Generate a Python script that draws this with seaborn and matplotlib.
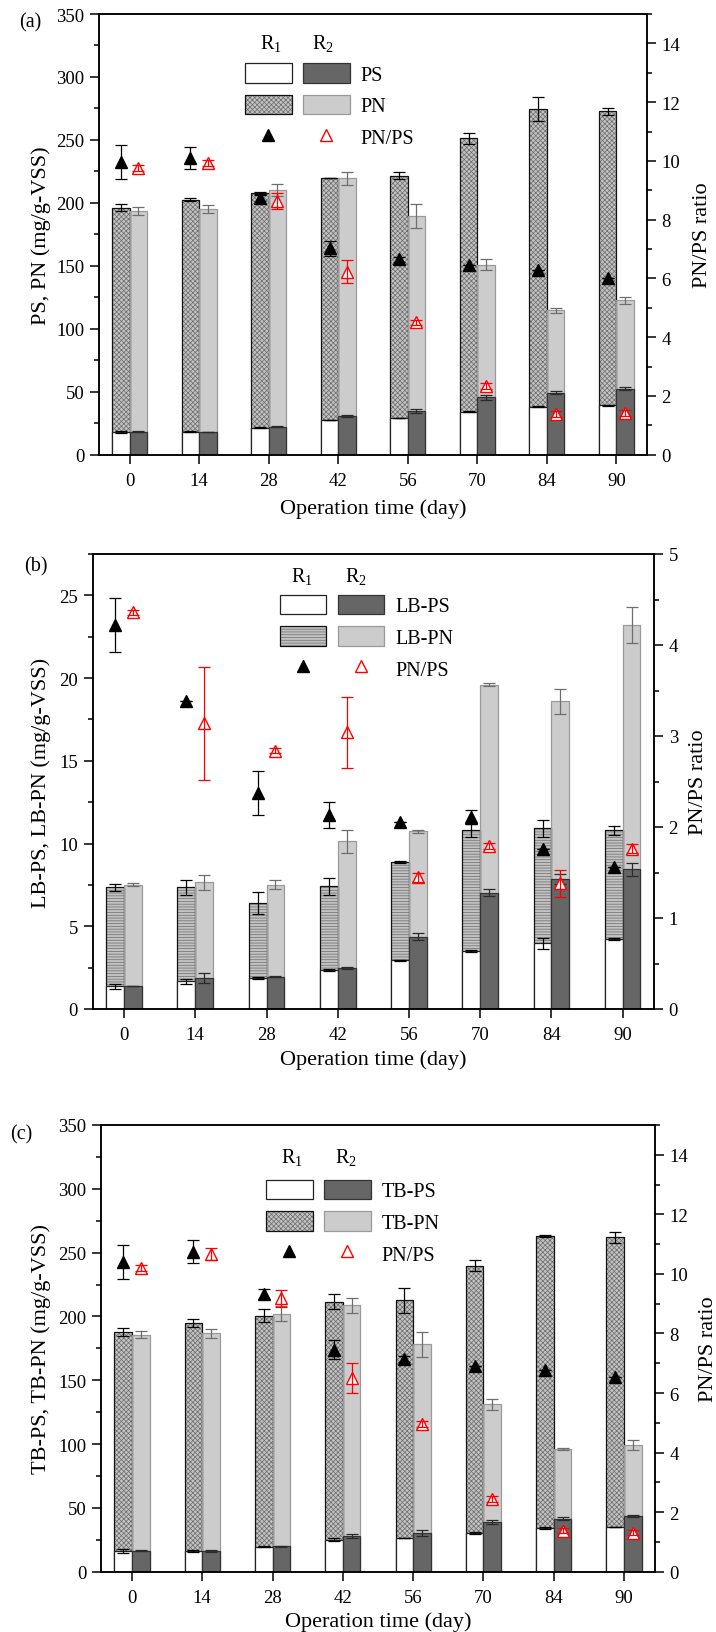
import matplotlib
matplotlib.use("Agg")
import numpy as np
import pandas as pd
import matplotlib.pyplot as plt
import seaborn as sns
from matplotlib.patches import Patch
from matplotlib.lines import Line2D
from matplotlib.legend_handler import HandlerTuple
from matplotlib.ticker import MultipleLocator

days = ["0", "14", "28", "42", "56", "70", "84", "90"]
reactors = ["R1", "R2"]

# ---------------- (a) total EPS ----------------
a_ps_r1 = [18.0, 18.3, 21.4, 27.5, 29.1, 34.1, 38.1, 39.2]
a_ps_r2 = [18.3, 18.0, 22.2, 31.0, 34.7, 45.8, 49.2, 52.4]
a_ps_r1_err = [0.5, 0.4, 0.3, 0.3, 0.3, 0.3, 0.3, 0.3]
a_ps_r2_err = [0.3, 0.3, 0.3, 0.8, 1.5, 2.0, 1.2, 1.0]
a_pn_r1 = [196.3, 202.6, 207.7, 219.6, 221.7, 251.3, 274.6, 272.7]
a_pn_r2 = [193.7, 195.0, 210.3, 219.6, 189.4, 151.0, 114.6, 122.8]
a_pn_r1_err = [2.6, 1.5, 1.0, 0.2, 2.5, 4.5, 9.3, 3.0]
a_pn_r2_err = [3.2, 3.3, 5.0, 5.3, 9.5, 4.2, 2.0, 2.8]
a_ratio_r1 = [9.95, 10.09, 8.74, 7.03, 6.65, 6.44, 6.27, 6.00]
a_ratio_r2 = [9.76, 9.93, 8.63, 6.23, 4.50, 2.35, 1.38, 1.41]
a_ratio_r1_err = [0.58, 0.37, 0.10, 0.26, 0.08, 0.0, 0.0, 0.0]
a_ratio_r2_err = [0.10, 0.10, 0.28, 0.40, 0.10, 0.10, 0.10, 0.10]

# ---------------- (b) LB-EPS ----------------
b_ps_r1 = [1.38, 1.67, 1.88, 2.35, 2.94, 3.48, 3.96, 4.23]
b_ps_r2 = [1.40, 1.85, 1.96, 2.50, 4.38, 7.04, 7.85, 8.44]
b_ps_r1_err = [0.15, 0.15, 0.06, 0.04, 0.02, 0.06, 0.32, 0.04]
b_ps_r2_err = [0.0, 0.30, 0.05, 0.06, 0.22, 0.23, 0.30, 0.38]
b_pn_r1 = [7.35, 7.35, 6.40, 7.42, 8.90, 10.79, 10.92, 10.79]
b_pn_r2 = [7.52, 7.65, 7.52, 10.13, 10.73, 19.60, 18.60, 23.20]
b_pn_r1_err = [0.20, 0.46, 0.65, 0.50, 0.05, 0.40, 0.50, 0.30]
b_pn_r2_err = [0.08, 0.44, 0.26, 0.70, 0.10, 0.10, 0.76, 1.07]
b_ratio_r1 = [4.22, 3.38, 2.37, 2.13, 2.05, 2.11, 1.76, 1.56]
b_ratio_r2 = [4.36, 3.14, 2.84, 3.04, 1.45, 1.79, 1.38, 1.76]
b_ratio_r1_err = [0.30, 0.0, 0.24, 0.14, 0.0, 0.08, 0.0, 0.0]
b_ratio_r2_err = [0.03, 0.62, 0.03, 0.39, 0.05, 0.03, 0.15, 0.05]

# ---------------- (c) TB-EPS ----------------
c_ps_r1 = [16.3, 16.5, 19.5, 25.2, 26.3, 30.6, 33.9, 35.0]
c_ps_r2 = [16.5, 16.3, 19.8, 27.9, 30.4, 39.0, 41.5, 43.4]
c_ps_r1_err = [1.5, 0.8, 0.5, 1.0, 0.0, 0.8, 0.8, 0.3]
c_ps_r2_err = [0.5, 0.5, 0.3, 1.5, 2.2, 1.8, 1.0, 0.8]
c_pn_r1 = [188.1, 194.6, 200.6, 211.7, 212.5, 239.9, 262.9, 261.9]
c_pn_r2 = [185.7, 186.8, 202.2, 208.7, 178.1, 131.2, 96.0, 99.2]
c_pn_r1_err = [3.1, 3.1, 5.3, 6.1, 9.8, 4.6, 0.8, 4.2]
c_pn_r2_err = [2.7, 3.5, 5.7, 6.1, 9.8, 4.2, 1.0, 3.9]
c_ratio_r1 = [10.40, 10.75, 9.32, 7.46, 7.15, 6.91, 6.77, 6.54]
c_ratio_r2 = [10.20, 10.67, 9.18, 6.50, 4.96, 2.44, 1.38, 1.31]
c_ratio_r1_err = [0.58, 0.38, 0.17, 0.31, 0.10, 0.0, 0.0, 0.0]
c_ratio_r2_err = [0.10, 0.19, 0.29, 0.50, 0.10, 0.10, 0.08, 0.08]

W, H = 716, 1633
sns.set_style("ticks", {"axes.edgecolor": "black", "xtick.color": "black",
                        "ytick.color": "black", "text.color": "black",
                        "axes.labelcolor": "black"})
plt.rcParams["font.family"] = ["Liberation Serif", "DejaVu Serif"]
plt.rcParams["mathtext.fontset"] = "custom"
plt.rcParams["mathtext.rm"] = "Liberation Serif"
plt.rcParams["mathtext.it"] = "Liberation Serif:italic"
plt.rcParams["hatch.linewidth"] = 0.5

fig = plt.figure(figsize=(W / 100, H / 100), dpi=100)


def fx(px):
    return px / W


def fy(py):
    return 1 - py / H


PS_R1, PS_R2 = "white", "#666666"
PN_R1, PN_R2 = "#c2c2c2", "#cccccc"
HATCH_C = "#6c6c6c"
TICK_FS = 13.5
LAB_FS = 16
LEG_FS = 14.5


def panel(box, letter, letter_xy, ps, ps_err, pn, pn_err, ratio, ratio_err,
          ylim, ymaj, ymin_, rlim, rmaj, rmin, ylabel, names, hatch,
          leg_xy, head_x, head_y, ylab_x, rlab_x, xlab_y):
    left, top, right, bottom = box
    ax = fig.add_axes([fx(left), fy(bottom), (right - left) / W, (bottom - top) / H])
    df = pd.DataFrame({"day": days * 2, "reactor": ["R1"] * 8 + ["R2"] * 8,
                       "PS": ps[0] + ps[1], "PN": pn[0] + pn[1]})
    common = dict(data=df, x="day", hue="reactor", order=days, hue_order=reactors,
                  width=0.5, saturation=1, errorbar=None, legend=False, ax=ax)
    # PN bars (filled)
    n0 = len(ax.containers)
    sns.barplot(y="PN", palette={"R1": PN_R1, "R2": PN_R2}, linewidth=0.5, **common)
    pn_bars = ax.containers[n0:n0 + 2]
    for p in pn_bars[0]:
        p.set_hatch(hatch)
        p.set_edgecolor(HATCH_C)
    for p in pn_bars[1]:
        p.set_edgecolor(PN_R2)
    # PN outlines
    sns.barplot(y="PN", palette={"R1": "#111111", "R2": "#9a9a9a"}, fill=False,
                linewidth=0.9, **common)
    # PS bars
    n1 = len(ax.containers)
    sns.barplot(y="PS", palette={"R1": PS_R1, "R2": PS_R2}, linewidth=0.9, **common)
    ps_bars = ax.containers[n1:n1 + 2]
    for p in ps_bars[0]:
        p.set_edgecolor("#222222")
    for p in ps_bars[1]:
        p.set_edgecolor("#333333")

    centers = [[p.get_x() + p.get_width() / 2 for p in c] for c in pn_bars]
    pn_ecol = ["black", "#6e6e6e"]
    ps_ecol = ["black", "#2a2a2a"]
    for i in range(2):
        ax.errorbar(centers[i], pn[i], yerr=pn_err[i], fmt="none", ecolor=pn_ecol[i],
                    elinewidth=0.9, capsize=4, capthick=0.9, zorder=3)
        ax.errorbar(centers[i], ps[i], yerr=ps_err[i], fmt="none", ecolor=ps_ecol[i],
                    elinewidth=0.9, capsize=4, capthick=0.9, zorder=3)

    ax.set_xlim(-0.44, 7.44)
    ax.set_ylim(*ylim)
    ax.yaxis.set_major_locator(MultipleLocator(ymaj))
    ax.yaxis.set_minor_locator(MultipleLocator(ymin_))
    ax.tick_params(axis="both", which="major", direction="out", length=6.5, width=1.1,
                   labelsize=TICK_FS, pad=4)
    ax.tick_params(axis="y", which="minor", direction="out", length=3.5, width=1.1)
    ax.tick_params(axis="x", which="major", pad=6)
    for s in ax.spines.values():
        s.set_linewidth(1.1)
        s.set_visible(True)

    ax2 = ax.twinx()
    ax2.plot(centers[0], ratio[0], ls="none", marker="^", color="black", ms=9, zorder=3)
    ax2.plot(centers[1], ratio[1], ls="none", marker="^", mfc="white", mec="red",
             mew=1.0, ms=9, zorder=3)
    ax2.errorbar(centers[0], ratio[0], yerr=ratio_err[0], fmt="none", ecolor="black",
                 elinewidth=0.9, capsize=4, capthick=0.9, zorder=4)
    ax2.errorbar(centers[1], ratio[1], yerr=ratio_err[1], fmt="none", ecolor="red",
                 elinewidth=0.9, capsize=4, capthick=0.9, zorder=4)
    ax2.set_ylim(*rlim)
    ax2.yaxis.set_major_locator(MultipleLocator(rmaj))
    ax2.yaxis.set_minor_locator(MultipleLocator(rmin))
    ax2.tick_params(axis="y", which="major", direction="out", length=6.5, width=1.1,
                    labelsize=TICK_FS, pad=4)
    ax2.tick_params(axis="y", which="minor", direction="out", length=3.5, width=1.1)
    for s in ax2.spines.values():
        s.set_linewidth(1.1)

    ax.set_ylabel(ylabel, fontsize=LAB_FS)
    ax.yaxis.set_label_coords(ylab_x, 0.5)
    ax.set_xlabel("Operation time (day)", fontsize=LAB_FS)
    ax.xaxis.set_label_coords(0.5, xlab_y)
    ax2.set_ylabel("PN/PS ratio", fontsize=LAB_FS)
    ax2.yaxis.set_label_coords(rlab_x, 0.5)

    # legend
    ps_h = (Patch(fc=PS_R1, ec="#222222", lw=0.9), Patch(fc=PS_R2, ec="#333333", lw=0.9))
    pn_h = ((Patch(fc=PN_R1, ec=HATCH_C, hatch=hatch, lw=0.5),
             Patch(fc="none", ec="#111111", lw=0.9)),
            Patch(fc=PN_R2, ec="#9a9a9a", lw=0.9))
    ra_h = (Line2D([], [], ls="none", marker="^", color="black", ms=8),
            Line2D([], [], ls="none", marker="^", mfc="white", mec="red", mew=1.0, ms=8))
    hm = {h: HandlerTuple(ndivide=None, pad=0.575) for h in (ps_h, pn_h, ra_h)}
    ax2.legend([ps_h, pn_h, ra_h], [names[0], names[1], "PN/PS"], handler_map=hm,
               loc="upper left", bbox_to_anchor=(fx(leg_xy[0]), fy(leg_xy[1])),
               bbox_transform=fig.transFigure, frameon=False, fontsize=LEG_FS,
               handlelength=5.2, handleheight=1.12, handletextpad=0.55,
               labelspacing=0.5, borderpad=0, borderaxespad=0)
    fig.text(fx(head_x[0]), fy(head_y), "R$_1$", ha="center", va="center", fontsize=LEG_FS)
    fig.text(fx(head_x[1]), fy(head_y), "R$_2$", ha="center", va="center", fontsize=LEG_FS)
    fig.text(fx(letter_xy[0]), fy(letter_xy[1]), letter, ha="center", va="center",
             fontsize=14.5)
    return ax, ax2


panel((99, 15, 647, 455.7), "(a)", (30, 23),
      (a_ps_r1, a_ps_r2), (a_ps_r1_err, a_ps_r2_err),
      (a_pn_r1, a_pn_r2), (a_pn_r1_err, a_pn_r2_err),
      (a_ratio_r1, a_ratio_r2), (a_ratio_r1_err, a_ratio_r2_err),
      (0, 350), 50, 25, (0, 15), 2, 1,
      "PS, PN (mg/g-VSS)", ("PS", "PN"), "xxxxxxx",
      (245, 64), (271, 323), 43, -0.0876, 1.084, -0.098)

panel((92.7, 555, 654, 1010), "(b)", (36, 567),
      (b_ps_r1, b_ps_r2), (b_ps_r1_err, b_ps_r2_err),
      (b_pn_r1, b_pn_r2), (b_pn_r1_err, b_pn_r2_err),
      (b_ratio_r1, b_ratio_r2), (b_ratio_r1_err, b_ratio_r2_err),
      (0, 27.5), 5, 2.5, (0, 5), 1, 0.5,
      "LB-PS, LB-PN (mg/g-VSS)", ("LB-PS", "LB-PN"), "------",
      (279.5, 595.5), (302, 356), 576.5, -0.0743, 1.062, -0.0895)

panel((101, 1126, 655, 1572.7), "(c)", (21, 1135),
      (c_ps_r1, c_ps_r2), (c_ps_r1_err, c_ps_r2_err),
      (c_pn_r1, c_pn_r2), (c_pn_r1_err, c_pn_r2_err),
      (c_ratio_r1, c_ratio_r2), (c_ratio_r1_err, c_ratio_r2_err),
      (0, 350), 50, 25, (0, 15), 2, 1,
      "TB-PS, TB-PN (mg/g-VSS)", ("TB-PS", "TB-PN"), "xxxxxxx",
      (266, 1180.7), (292, 346), 1157.5, -0.0903, 1.079, -0.089)

fig.savefig("out.png", dpi=100)
